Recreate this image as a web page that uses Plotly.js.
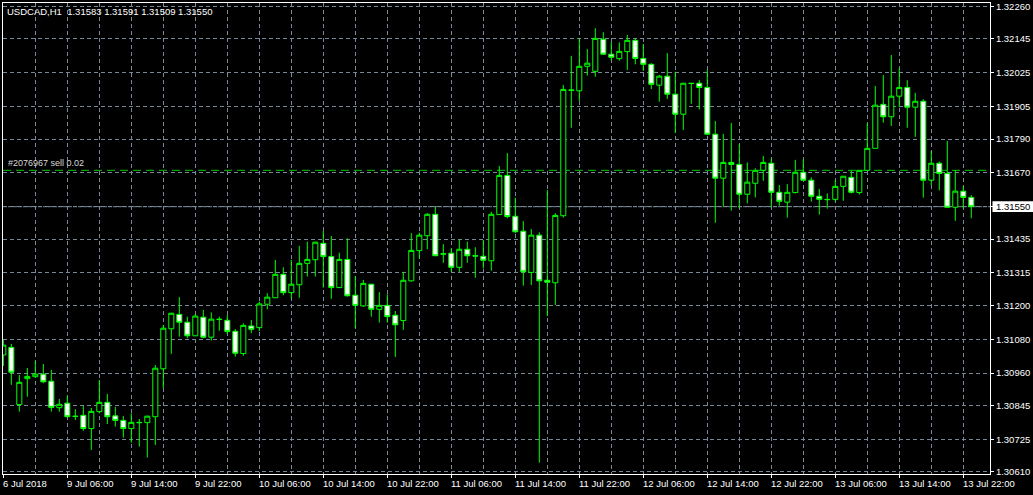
<!DOCTYPE html>
<html>
<head>
<meta charset="utf-8">
<script src="https://cdn.plot.ly/plotly-3.0.1.min.js"></script>
<style>html,body{margin:0;padding:0;background:#000;}#chart{width:1033px;height:495px;}</style>
</head>
<body>
<div id="chart"></div>
<script>
// USDCAD H1 candles, first bar = 6 Jul 2018 22:00
const openP = [1.31024,1.31051,1.30848,1.30940,1.30947,1.30956,1.30931,1.30837,1.30853,1.30807,
1.30810,1.30763,1.30823,1.30856,1.30808,1.30792,1.30763,1.30785,1.30784,1.30805,
1.30975,1.31117,1.31168,1.31140,1.31092,1.31158,1.31087,1.31151,1.31147,1.31108,
1.31029,1.31127,1.31121,1.31204,1.31227,1.31310,1.31245,1.31273,1.31349,1.31362,
1.31420,1.31373,1.31263,1.31363,1.31236,1.31198,1.31275,1.31186,1.31200,1.31165,
1.31146,1.31287,1.31394,1.31447,1.31523,1.31383,1.31385,1.31335,1.31399,1.31376,
1.31374,1.31358,1.31522,1.31661,1.31516,1.31463,1.31317,1.31449,1.31289,1.31280,
1.31518,1.31964,1.31961,1.32048,1.32030,1.32144,1.32091,1.32075,1.32100,1.32140,
1.32076,1.32055,1.31981,1.32013,1.31949,1.31878,1.31988,1.31988,1.31973,1.31807,
1.31651,1.31707,1.31700,1.31594,1.31633,1.31679,1.31704,1.31601,1.31566,1.31600,
1.31672,1.31644,1.31587,1.31576,1.31576,1.31622,1.31654,1.31600,1.31679,1.31757,
1.31913,1.31869,1.31942,1.31973,1.31903,1.31924,1.31644,1.31704,1.31668,1.31548,
1.31605,1.31583];
const highP = [1.31077,1.31063,1.30953,1.30978,1.31003,1.30992,1.30971,1.30868,1.30879,1.30832,
1.30844,1.30836,1.30935,1.30886,1.30840,1.30808,1.30817,1.30797,1.30808,1.30988,
1.31130,1.31174,1.31229,1.31160,1.31169,1.31184,1.31175,1.31160,1.31166,1.31116,
1.31136,1.31148,1.31213,1.31243,1.31361,1.31335,1.31361,1.31411,1.31426,1.31426,
1.31464,1.31446,1.31387,1.31438,1.31304,1.31290,1.31276,1.31247,1.31239,1.31180,
1.31319,1.31456,1.31458,1.31527,1.31550,1.31417,1.31402,1.31434,1.31426,1.31406,
1.31432,1.31532,1.31694,1.31740,1.31582,1.31499,1.31471,1.31459,1.31609,1.31527,
1.31982,1.32085,1.32147,1.32109,1.32183,1.32169,1.32135,1.32133,1.32159,1.32147,
1.32127,1.32059,1.32017,1.32095,1.32029,1.31989,1.31989,1.31999,1.32035,1.31854,
1.31808,1.31847,1.31771,1.31707,1.31686,1.31730,1.31722,1.31627,1.31630,1.31716,
1.31718,1.31654,1.31613,1.31597,1.31645,1.31658,1.31678,1.31679,1.31846,1.31978,
1.32017,1.32088,1.32041,1.31999,1.31954,1.31931,1.31748,1.31710,1.31783,1.31680,
1.31623,1.31591];
const lowP = [1.30985,1.30918,1.30823,1.30876,1.30944,1.30924,1.30823,1.30823,1.30802,1.30793,
1.30755,1.30687,1.30817,1.30779,1.30770,1.30731,1.30713,1.30699,1.30660,1.30705,
1.30906,1.31028,1.31089,1.31083,1.31091,1.31083,1.31075,1.31110,1.31098,1.31018,
1.31021,1.31101,1.31109,1.31186,1.31226,1.31236,1.31225,1.31227,1.31302,1.31302,
1.31263,1.31223,1.31262,1.31231,1.31119,1.31195,1.31160,1.31139,1.31139,1.31017,
1.31113,1.31284,1.31367,1.31399,1.31375,1.31351,1.31319,1.31319,1.31351,1.31298,
1.31331,1.31323,1.31521,1.31509,1.31456,1.31270,1.31272,1.30642,1.31162,1.31201,
1.31511,1.31830,1.31925,1.32015,1.32011,1.32088,1.32068,1.32068,1.32035,1.32055,
1.32032,1.31967,1.31922,1.31932,1.31812,1.31822,1.31915,1.31895,1.31804,1.31493,
1.31550,1.31536,1.31544,1.31562,1.31583,1.31642,1.31548,1.31553,1.31511,1.31597,
1.31643,1.31568,1.31522,1.31543,1.31567,1.31571,1.31597,1.31593,1.31679,1.31757,
1.31848,1.31836,1.31903,1.31830,1.31798,1.31582,1.31626,1.31608,1.31547,1.31500,
1.31544,1.31509];
const closeP = [1.31059,1.30963,1.30927,1.30948,1.30956,1.30929,1.30838,1.30849,1.30805,1.30806,
1.30763,1.30824,1.30856,1.30805,1.30792,1.30763,1.30785,1.30784,1.30807,1.30977,
1.31119,1.31172,1.31140,1.31092,1.31162,1.31087,1.31151,1.31150,1.31107,1.31030,
1.31129,1.31115,1.31205,1.31229,1.31310,1.31245,1.31275,1.31349,1.31363,1.31424,
1.31373,1.31263,1.31363,1.31234,1.31200,1.31278,1.31186,1.31200,1.31160,1.31131,
1.31289,1.31395,1.31449,1.31523,1.31376,1.31382,1.31335,1.31399,1.31376,1.31375,
1.31360,1.31523,1.31661,1.31515,1.31461,1.31319,1.31449,1.31287,1.31282,1.31519,
1.31966,1.31963,1.32048,1.32059,1.32147,1.32091,1.32080,1.32101,1.32140,1.32076,
1.32055,1.31984,1.32013,1.31949,1.31878,1.31988,1.31987,1.31973,1.31807,1.31651,
1.31707,1.31700,1.31594,1.31637,1.31679,1.31707,1.31601,1.31569,1.31601,1.31672,
1.31644,1.31587,1.31576,1.31575,1.31622,1.31658,1.31601,1.31679,1.31757,1.31910,
1.31869,1.31942,1.31973,1.31903,1.31924,1.31644,1.31704,1.31668,1.31548,1.31605,
1.31583,1.31550];

const timeTickIdx = [0,8,16,24,32,40,48,56,64,72,80,88,96,104,112,120];
const timeTickText = ["6 Jul 2018","9 Jul 06:00","9 Jul 14:00","9 Jul 22:00","10 Jul 06:00","10 Jul 14:00",
  "10 Jul 22:00","11 Jul 06:00","11 Jul 14:00","11 Jul 22:00","12 Jul 06:00","12 Jul 14:00",
  "12 Jul 22:00","13 Jul 06:00","13 Jul 14:00","13 Jul 22:00"];
// the 1.31550 grid label is covered by the bid-price box, so it is left blank here
const priceTickVals = [1.32260,1.32145,1.32025,1.31905,1.31790,1.31670,1.31550,1.31435,
  1.31315,1.31200,1.31080,1.30960,1.30845,1.30725,1.30610];
const priceTickText = ["1.32260","1.32145","1.32025","1.31905","1.31790","1.31670","","1.31435",
  "1.31315","1.31200","1.31080","1.30960","1.30845","1.30725","1.30610"];

const symbolTitle = "USDCAD,H1  1.31583 1.31591 1.31509 1.31550";
const bidPrice = 1.31550;
const orderPrice = 1.31679;
const orderLabel = "#2076967 sell 0.02";

const barIdx = openP.map((_, i) => i);
const FONT = "Liberation Sans, Arial, sans-serif";
const GRID = "#778899";
const LIME = "#00ff00";

const trace = {
  type: "candlestick",
  x: barIdx, open: openP, high: highP, low: lowP, close: closeP,
  increasing: {line: {color: LIME, width: 1}, fillcolor: "#000000"},
  decreasing: {line: {color: LIME, width: 1}, fillcolor: "#ffffff"},
  whiskerwidth: 0,
  hoverinfo: "skip",
  showlegend: false
};

const annotations = timeTickIdx.map((v, k) => ({
  x: v, xref: "x", y: 0, yref: "paper", yanchor: "top", xanchor: "left",
  xshift: -2, yshift: -2, showarrow: false, text: timeTickText[k],
  font: {family: FONT, size: 9.5, color: "#ffffff"}
}));
annotations.push({
  x: 0, xref: "paper", y: 1, yref: "paper", xanchor: "left", yanchor: "top",
  xshift: 2, yshift: -1, showarrow: false, text: symbolTitle,
  font: {family: FONT, size: 9.5, color: "#ffffff"}
});
annotations.push({
  x: 0, xref: "paper", y: orderPrice, yref: "y", xanchor: "left", yanchor: "bottom",
  xshift: 3, yshift: 0, showarrow: false, text: orderLabel,
  font: {family: FONT, size: 9, color: "#d8d8d8"}
});
annotations.push({
  x: 1, xref: "paper", y: bidPrice, yref: "y", xanchor: "left", yanchor: "middle",
  xshift: 4, showarrow: false, text: bidPrice.toFixed(5),
  font: {family: FONT, size: 9.5, color: "#000000"}
});

const layout = {
  width: 1033, height: 495,
  margin: {l: 3, r: 43, t: 3, b: 21, pad: 0},
  paper_bgcolor: "#000000", plot_bgcolor: "#000000",
  boxgap: 0.3, boxgroupgap: 0.1,
  showlegend: false,
  xaxis: {
    type: "linear", range: [-0.04, 123.34], fixedrange: true,
    rangeslider: {visible: false},
    tickmode: "array", tickvals: timeTickIdx, ticktext: timeTickText,
    showticklabels: false, ticks: "outside", ticklen: 3, tickcolor: "#ffffff", tickwidth: 1,
    showgrid: true, gridcolor: GRID, griddash: "4px,3px", gridwidth: 1,
    minor: {tickmode: "linear", tick0: 0, dtick: 4, showgrid: true, gridcolor: GRID,
            griddash: "4px,3px", gridwidth: 1, ticks: ""},
    zeroline: false, showline: true, mirror: true, linecolor: "#ffffff", linewidth: 1
  },
  yaxis: {
    side: "right", range: [1.306018, 1.322725], fixedrange: true,
    tickmode: "array", tickvals: priceTickVals, ticktext: priceTickText,
    ticks: "outside", ticklen: 3, tickcolor: "#ffffff", tickwidth: 1,
    tickfont: {family: FONT, size: 9.5, color: "#ffffff"},
    showgrid: true, gridcolor: GRID, griddash: "4px,3px", gridwidth: 1,
    zeroline: false, showline: true, mirror: true, linecolor: "#ffffff", linewidth: 1
  },
  shapes: [
    {type: "line", xref: "paper", x0: 0, x1: 1, yref: "y", y0: orderPrice, y1: orderPrice,
     line: {color: "#00c800", width: 1, dash: "8px,5px"}, layer: "below"},
    {type: "line", xref: "paper", x0: 0, x1: 1, yref: "y", y0: bidPrice, y1: bidPrice,
     line: {color: GRID, width: 1, dash: "4px,1px"}, layer: "below"},
    {type: "rect", xref: "paper", x0: 1.0025, x1: 1.05, yref: "y",
     y0: bidPrice - 0.00019, y1: bidPrice + 0.00019,
     fillcolor: "#ffffff", line: {width: 0}, layer: "above"}
  ],
  annotations: annotations
};

Plotly.newPlot("chart", [trace], layout, {staticPlot: true, displayModeBar: false});
</script>
</body>
</html>
